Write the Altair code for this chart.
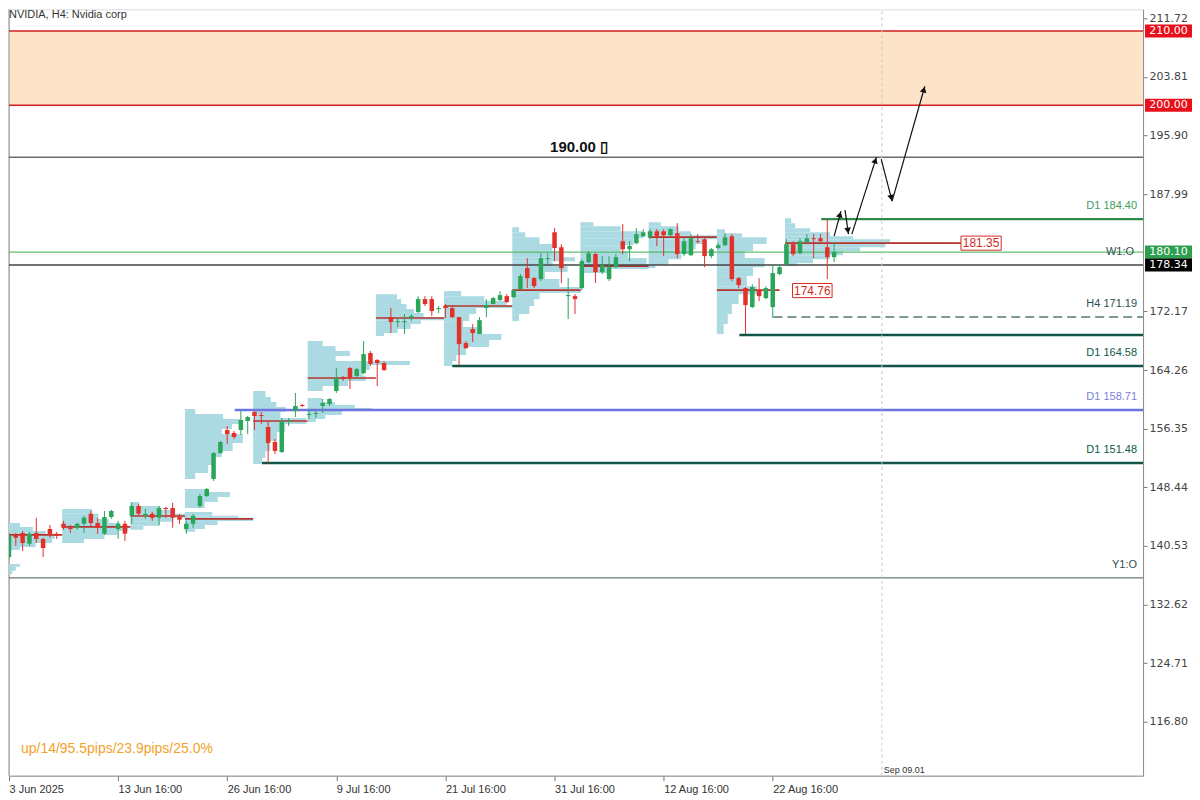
import math
import altair as alt
import pandas as pd

# ---------------- layout / scales ----------------
W, H = 1135, 767
X_MIN, X_MAX = 0.0, 166.3
Y_MIN, Y_MAX = 109.52, 212.93

# ---------------- data ----------------
opens = [139.04, 142.01, 142.28, 140.80, 142.28, 141.47, 142.82, 142.15, 143.50, 142.96,
         142.96, 143.50, 144.85, 143.63, 142.15, 144.44, 142.82, 143.50, 144.58, 145.92,
         144.58, 144.85, 144.31, 145.65, 145.65, 144.44, 142.82, 143.50, 145.92, 147.27,
         149.56, 153.07, 156.17, 155.76, 156.17, 157.38, 158.60, 158.19, 156.57, 154.55,
         153.20, 157.25, 158.73, 159.54, 158.19, 158.33, 159.41, 159.68, 161.43, 163.32,
         164.53, 163.45, 163.85, 166.55, 165.61, 165.20, 171.40, 170.73, 170.73, 171.27,
         172.08, 173.83, 173.83, 172.48, 172.89, 172.62, 171.40, 167.90, 169.79, 169.11,
         172.62, 173.16, 173.70, 174.23, 174.10, 175.18, 178.01, 176.66, 176.53, 179.22,
         182.86, 180.84, 174.23, 174.23, 175.32, 178.82, 179.90, 177.47, 176.53, 178.14,
         181.65, 180.57, 181.38, 182.32, 182.19, 183.00, 183.00, 182.46, 182.73, 179.90,
         179.76, 181.65, 181.92, 179.63, 180.71, 181.11, 182.32, 176.66, 175.32, 172.75,
         175.04, 173.97, 172.75, 177.20, 178.55, 181.24, 180.03, 181.52, 182.05, 182.05,
         180.84, 179.49]
highs = [142.28, 142.28, 142.55, 142.42, 144.31, 141.61, 143.36, 142.42, 143.90, 143.36,
         143.63, 144.58, 145.25, 144.31, 145.25, 145.39, 143.90, 143.90, 146.33, 146.19,
         145.52, 145.12, 145.92, 145.79, 146.33, 144.85, 143.90, 144.85, 147.54, 148.35,
         153.20, 154.69, 156.71, 156.03, 158.73, 158.06, 158.70, 158.60, 157.38, 154.96,
         157.79, 157.79, 161.16, 159.68, 159.00, 158.73, 160.35, 160.48, 164.53, 163.45,
         164.66, 164.53, 168.17, 166.82, 165.74, 165.47, 172.62, 171.27, 171.81, 171.81,
         174.23, 174.23, 174.23, 172.89, 173.16, 172.89, 171.45, 168.17, 170.46, 171.40,
         173.83, 174.10, 174.91, 174.50, 175.18, 177.20, 179.36, 176.80, 180.03, 180.03,
         183.40, 181.24, 176.66, 174.50, 179.22, 180.30, 180.03, 179.63, 179.63, 179.90,
         183.94, 181.65, 183.40, 183.27, 183.27, 183.27, 183.27, 183.40, 184.08, 182.05,
         182.59, 182.59, 182.05, 180.71, 181.38, 182.73, 182.59, 176.80, 175.45, 175.85,
         176.66, 175.58, 178.55, 178.55, 181.92, 181.65, 182.05, 182.59, 182.59, 182.59,
         184.62, 181.52]
lows = [138.78, 140.53, 139.85, 140.53, 140.93, 139.04, 141.61, 141.47, 142.69, 142.28,
        142.69, 142.28, 142.96, 142.15, 142.01, 144.17, 141.47, 141.20, 143.50, 144.58,
        144.17, 143.90, 143.36, 144.31, 142.96, 143.50, 142.15, 142.96, 145.65, 147.13,
        149.29, 152.93, 154.28, 154.96, 155.49, 155.63, 156.17, 156.98, 151.72, 152.93,
        153.07, 156.71, 157.92, 159.27, 157.65, 157.79, 158.46, 159.41, 161.16, 162.78,
        161.70, 163.18, 163.72, 164.80, 162.10, 164.12, 169.25, 170.06, 169.11, 170.86,
        171.94, 172.89, 171.54, 171.94, 171.27, 171.27, 164.93, 167.09, 168.03, 169.11,
        171.40, 173.16, 173.56, 173.29, 173.97, 175.04, 175.32, 175.32, 176.26, 178.55,
        178.95, 175.99, 171.13, 171.81, 175.04, 178.68, 175.99, 177.20, 176.26, 178.01,
        179.90, 178.95, 181.24, 182.19, 181.92, 180.98, 179.63, 182.32, 179.36, 179.63,
        179.63, 181.38, 178.14, 179.36, 180.57, 180.98, 176.26, 175.32, 169.11, 172.62,
        173.56, 173.83, 171.27, 177.07, 178.28, 179.63, 179.90, 181.38, 179.36, 181.52,
        176.53, 178.82]
closes = [142.01, 141.61, 140.93, 142.15, 141.47, 140.26, 142.01, 141.88, 142.96, 142.82,
          143.50, 144.31, 143.63, 142.96, 144.44, 145.25, 143.50, 142.15, 145.92, 144.85,
          144.85, 144.31, 145.65, 145.52, 144.31, 144.04, 143.50, 144.58, 147.27, 148.21,
          153.07, 154.55, 155.63, 155.22, 157.52, 157.92, 158.06, 158.06, 154.42, 153.34,
          157.38, 157.38, 159.41, 159.41, 158.33, 158.46, 159.81, 160.35, 163.18, 163.05,
          163.18, 164.39, 166.41, 165.07, 165.20, 164.26, 170.73, 170.86, 170.86, 171.54,
          173.83, 173.16, 172.21, 172.62, 172.62, 171.40, 167.76, 167.22, 169.25, 170.99,
          173.02, 173.97, 174.37, 173.43, 175.04, 176.93, 176.66, 175.58, 179.36, 179.36,
          180.71, 178.01, 174.37, 173.83, 178.95, 180.03, 177.47, 178.41, 178.14, 179.49,
          180.57, 180.98, 182.59, 182.86, 183.00, 182.32, 182.46, 183.27, 179.90, 181.65,
          182.05, 181.52, 179.63, 180.57, 181.11, 182.19, 176.53, 175.72, 173.02, 175.45,
          174.23, 175.32, 177.34, 178.14, 181.24, 179.90, 181.65, 182.05, 181.92, 181.65,
          179.49, 180.17]

# x-axis (bar index -> date label)
date_ticks = [0, 16, 32, 48, 64, 80, 96, 112]
date_labels = ["3 Jun 2025", "13 Jun 16:00", "26 Jun 16:00", "9 Jul 16:00",
               "21 Jul 16:00", "31 Jul 16:00", "12 Aug 16:00", "22 Aug 16:00"]
price_ticks = [211.72, 203.81, 195.90, 187.99, 172.17, 164.26, 156.35, 148.44,
               140.53, 132.62, 124.71, 116.80]

# weekly volume profiles: start bar, level tops, level bottoms, lengths (bars)
prof_start = [-6.0, -0.2, 7.8, 17.8, 25.8, 35.8, 43.8, 53.8, 63.8, 73.8, 83.8, 93.8, 103.8, 113.8]
prof_top = [
    [138.10, 137.70, 137.16],
    [143.63, 143.09, 142.55, 142.01, 141.47, 140.93, 140.39],
    [145.52, 144.85, 144.17, 143.63, 143.09, 142.55, 142.01, 141.47],
    [146.46, 145.92, 145.38, 144.85, 144.31, 143.77, 143.23],
    [159.00, 158.33, 157.65, 156.98, 156.30, 155.63, 154.42, 153.34, 152.53, 151.45, 150.37,
     148.21, 147.81, 147.13, 146.46, 145.11, 144.58, 144.31, 143.90, 143.36, 142.82],
    [161.43, 160.62, 159.94, 159.27, 158.60, 157.79, 156.98, 155.90, 154.69, 153.34, 152.39],
    [168.17, 167.49, 166.82, 166.14, 165.47, 164.93, 164.26, 163.45, 162.78, 162.10,
     160.48, 159.94, 159.54, 159.13, 158.73, 158.19, 157.65],
    [174.50, 173.83, 173.16, 172.48, 171.94, 171.40, 170.99, 170.46, 169.79, 169.25],
    [174.91, 174.23, 173.56, 173.02, 172.62, 171.81, 170.86, 170.05, 169.11, 168.30, 167.36, 166.28, 165.47],
    [183.54, 182.86, 182.19, 181.25, 180.30, 179.49, 178.95, 178.28, 177.47, 176.53, 175.45, 174.64, 173.83, 172.89, 171.81],
    [184.21, 183.67, 183.00, 182.05, 181.11, 180.30, 179.36, 178.55, 177.88],
    [184.21, 183.67, 183.00, 182.46, 181.92, 181.25, 180.57, 179.90, 179.22, 178.42],
    [183.27, 182.73, 182.19, 181.25, 180.30, 179.36, 178.14, 176.93, 175.58, 174.50, 173.16, 171.81, 170.46],
    [184.75, 184.08, 183.40, 182.86, 182.32, 181.92, 181.52, 181.25, 180.84, 180.30, 179.76, 179.22, 178.68],
]
prof_bot = [
    [137.70, 137.16, 136.75],
    [143.09, 142.55, 142.01, 141.47, 140.93, 140.39, 139.99],
    [144.85, 144.17, 143.63, 143.09, 142.55, 142.01, 141.47, 140.93],
    [145.92, 145.38, 144.85, 144.31, 143.77, 143.23, 142.69],
    [158.33, 157.65, 156.98, 156.30, 155.63, 154.42, 153.34, 152.53, 151.45, 150.37, 149.56,
     147.81, 147.13, 146.46, 145.65, 144.58, 144.31, 143.90, 143.36, 142.82, 142.42],
    [160.62, 159.94, 159.27, 158.60, 157.79, 156.98, 155.90, 154.69, 153.34, 152.39, 151.58],
    [167.49, 166.82, 166.14, 165.47, 164.93, 164.26, 163.45, 162.78, 162.10, 161.43,
     159.94, 159.54, 159.13, 158.73, 158.19, 157.65, 157.25],
    [173.83, 173.16, 172.48, 171.94, 171.40, 170.99, 170.46, 169.79, 169.25, 168.84],
    [174.23, 173.56, 173.02, 172.62, 171.81, 170.86, 170.05, 169.11, 168.30, 167.36, 166.28, 165.47, 164.80],
    [182.86, 182.19, 181.25, 180.30, 179.49, 178.95, 178.28, 177.47, 176.53, 175.45, 174.64, 173.83, 172.89, 171.81, 170.86],
    [183.67, 183.00, 182.05, 181.11, 180.30, 179.36, 178.55, 177.88, 177.34],
    [183.67, 183.00, 182.46, 181.92, 181.25, 180.57, 179.90, 179.22, 178.42, 178.01],
    [182.73, 182.19, 181.25, 180.30, 179.36, 178.14, 176.93, 175.58, 174.50, 173.16, 171.81, 170.46, 169.11],
    [184.08, 183.40, 182.86, 182.32, 181.92, 181.52, 181.25, 180.84, 180.30, 179.76, 179.22, 178.68, 178.28],
]
prof_len = [
    [7.6, 7.0, 6.5],
    [1.8, 3.7, 5.6, 6.9, 6.5, 4.1, 1.8],
    [4.4, 5.3, 6.8, 8.5, 9.7, 8.1, 6.2, 3.2],
    [1.3, 4.4, 6.6, 8.4, 6.3, 4.3, 1.9],
    [1.5, 5.6, 8.1, 6.9, 5.4, 8.5, 7.0, 5.4, 4.0, 3.4, 1.5,
     2.9, 6.6, 4.8, 2.9, 4.0, 7.8, 10.0, 4.8, 2.9, 1.5],
    [1.8, 2.6, 3.4, 4.8, 4.0, 7.8, 4.7, 3.5, 2.5, 1.8, 1.3],
    [2.2, 4.1, 6.2, 4.1, 15.0, 9.1, 8.1, 8.5, 5.9, 2.2,
     2.1, 4.0, 6.9, 9.4, 5.0, 2.6, 1.2],
    [3.1, 3.7, 4.5, 5.6, 7.0, 10.0, 6.6, 5.1, 3.2, 1.2],
    [2.5, 5.9, 9.1, 10.0, 4.7, 3.7, 2.8, 5.6, 8.4, 6.6, 3.2, 1.8, 1.2],
    [1.0, 1.9, 4.0, 5.9, 6.9, 9.2, 5.9, 8.1, 4.8, 6.9, 10.1, 4.0, 3.2, 2.5, 1.0],
    [1.9, 5.9, 9.2, 7.8, 5.9, 7.0, 9.7, 10.0, 4.4],
    [1.8, 4.4, 6.2, 10.0, 8.4, 6.9, 6.3, 4.8, 2.9, 1.0],
    [1.2, 3.7, 7.3, 5.3, 4.1, 7.0, 5.3, 4.4, 5.9, 3.2, 2.2, 1.6, 1.0],
    [0.9, 1.5, 3.7, 6.6, 10.0, 15.4, 24.2, 14.7, 11.0, 8.5, 6.6, 4.1, 1.8],
]

# weekly POC lines
poc_start = [-0.2, 7.8, 17.8, 25.8, 35.8, 43.8, 53.8, 63.8, 73.8, 83.8, 93.8, 103.8, 113.8]
poc_end = [7.8, 17.8, 25.8, 35.8, 43.8, 53.8, 63.8, 73.8, 83.8, 93.8, 103.8, 113.0, 139.6]
poc_price = [142.01, 143.09, 144.57, 144.17, 157.38, 163.18, 171.27, 172.89, 175.04, 178.28,
             182.19, 175.04, 181.38]

# horizontal levels
zone_low, zone_high = 200.0, 210.0
level_price = [210.0, 200.0, 192.98, 184.62, 180.17, 178.42, 171.40, 168.98, 164.80, 158.87, 151.72, 136.21]
level_start = [X_MIN, X_MIN, X_MIN, 119.1, X_MIN, X_MIN, 112.1, 107.1, 65.0, 33.1, 37.1, X_MIN]
level_text = ["", "", "", "D1 184.40", "W1:O", "", "H4 171.19", "", "D1 164.58", "D1 158.71", "D1 151.48", "Y1:O"]

# price tags on the axis
tag_price = [210.0, 200.0, 180.17, 178.42]
tag_text = ["210.00", "200.00", "180.10", "178.34"]

# boxed labels inside the chart
box_price = [181.38, 174.98]
box_x0 = [139.6, 114.9]
box_x1 = [145.5, 120.7]
box_text = ["181.35", "174.76"]

# forecast arrows (bar index, price)
arrow_x0 = [121.0, 122.6, 123.6, 127.9, 129.5]
arrow_y0 = [182.32, 185.83, 182.59, 192.71, 187.04]
arrow_x1 = [122.0, 123.1, 127.2, 129.5, 134.3]
arrow_y1 = [185.70, 182.59, 192.98, 187.04, 202.55]

sep_bar = 128.0

# ---------------- styles ----------------
FONT = "Liberation Sans"
GREEN, RED = "#2aa55a", "#e2302b"
PROFILE = "#abdae3"
POC = "#b8332e"
FRAME = "#8c8c8c"
level_style = [
    ("#d11f1f", 1.5, None), ("#d11f1f", 1.5, None), ("#222222", 1.0, None),
    ("#2e8b4a", 2.2, None), ("#3cb04a", 1.0, None), ("#444444", 1.5, None),
    ("#7d9c8f", 2.0, [9, 5]), ("#0f5444", 2.5, None), ("#0f5444", 2.5, None),
    ("#6f73e0", 2.5, None), ("#0f5444", 2.5, None), ("#3b5b5b", 1.0, None),
]
label_color = {"D1 184.40": "#3d9e5f", "W1:O": "#2f4f4f", "H4 171.19": "#2f4f4f",
               "D1 164.58": "#0e5a47", "D1 158.71": "#7b80d8", "D1 151.48": "#0e5a47",
               "Y1:O": "#2f4f4f"}
tag_colors = ["#e8101a", "#e8101a", "#2e9e4f", "#000000"]

# ---------------- scales & axes ----------------
xs = alt.Scale(domain=[X_MIN, X_MAX], nice=False, zero=False)
ys = alt.Scale(domain=[Y_MIN, Y_MAX], nice=False, zero=False)

expr = "''"
for v, l in reversed(list(zip(date_ticks, date_labels))):
    expr = f"datum.value == {v} ? '{l}' : {expr}"

xaxis = alt.Axis(values=date_ticks, labelExpr=expr, labelAlign="left", title=None, grid=False,
                 labelFontSize=11, labelFont="Liberation Sans Narrow, Liberation Sans",
                 labelColor="#333333", tickColor="#777777", domainColor=FRAME,
                 tickSize=5, labelPadding=3, labelFlush=False, labelOverlap=False)
yaxis = alt.Axis(orient="right", values=price_ticks, format=".2f", title=None, grid=False,
                 labelFontSize=11, labelFont="DejaVu Sans", labelColor="#444444",
                 tickColor="#777777", domainColor=FRAME, tickSize=4, labelPadding=2,
                 labelOverlap=False, labelFlush=False)


def X(f):
    return alt.X(f, type="quantitative", scale=xs, axis=xaxis)


def Y(f):
    return alt.Y(f, type="quantitative", scale=ys, axis=yaxis)


layers = []

# zone 200-210
zone_df = pd.DataFrame({"lo": [zone_low], "hi": [zone_high], "x0": [X_MIN], "x1": [X_MAX]})
layers.append(alt.Chart(zone_df).mark_rect(color="#fde4c9").encode(
    x=X("x0"), x2="x1", y=Y("hi"), y2="lo"))

# left frame line
frame_df = pd.DataFrame({"x": [X_MIN], "lo": [Y_MIN], "hi": [Y_MAX]})
layers.append(alt.Chart(frame_df).mark_rule(color=FRAME, strokeWidth=1).encode(
    x=X("x"), y=Y("lo"), y2="hi"))

# volume profiles
rows = []
for s, tops, bots, lens in zip(prof_start, prof_top, prof_bot, prof_len):
    for t, b, l in zip(tops, bots, lens):
        rows.append({"x0": s, "x1": s + l, "top": t, "bot": b})
prof_df = pd.DataFrame(rows)
layers.append(alt.Chart(prof_df).mark_rect(color=PROFILE, clip=True).encode(
    x=X("x0"), x2="x1", y=Y("top"), y2="bot"))

# POC lines
poc_df = pd.DataFrame({"x0": poc_start, "x1": poc_end, "p": poc_price})
layers.append(alt.Chart(poc_df).mark_rule(color=POC, strokeWidth=1.6, clip=True).encode(
    x=X("x0"), x2="x1", y=Y("p")))

# horizontal levels
for p, s, (col, sw, dash) in zip(level_price, level_start, level_style):
    d = pd.DataFrame({"p": [p], "x0": [s], "x1": [X_MAX]})
    kw = dict(color=col, strokeWidth=sw, clip=True)
    if dash:
        kw["strokeDash"] = dash
    layers.append(alt.Chart(d).mark_rule(**kw).encode(x=X("x0"), x2="x1", y=Y("p")))

# Sep 09.01 vertical dashed line
sep_df = pd.DataFrame({"x": [sep_bar], "lo": [Y_MIN], "hi": [Y_MAX]})
layers.append(alt.Chart(sep_df).mark_rule(color="#c8c8c8", strokeDash=[3, 3], strokeWidth=1).encode(
    x=X("x"), y=Y("lo"), y2="hi"))
layers.append(alt.Chart(sep_df).mark_text(text="Sep 09.01", align="left", baseline="middle", dx=2,
                                           fontSize=9, font="Liberation Sans Narrow, Liberation Sans",
                                           color="#333333").encode(x=X("x"), y=alt.value(H - 6)))

# candles
cdf = pd.DataFrame({"i": list(range(len(opens))), "o": opens, "h": highs, "l": lows, "c": closes})
cdf["col"] = [GREEN if c >= o else RED for o, c in zip(opens, closes)]
layers.append(alt.Chart(cdf).mark_rule(strokeWidth=1, clip=True).encode(
    x=X("i"), y=Y("l"), y2="h", color=alt.Color("col:N", scale=None)))
layers.append(alt.Chart(cdf).mark_rule(strokeWidth=4.5, clip=True).encode(
    x=X("i"), y=Y("o"), y2="c", color=alt.Color("col:N", scale=None)))

# level labels
lab_df = pd.DataFrame({"p": level_price, "t": level_text})
lab_df = lab_df[lab_df["t"] != ""].copy()
lab_df["col"] = [label_color[t] for t in lab_df["t"]]
lab_df["dy"] = [0 if t == "W1:O" else -13 for t in lab_df["t"]]
for _, r in lab_df.iterrows():
    d = pd.DataFrame({"p": [r["p"]], "t": [r["t"]]})
    layers.append(alt.Chart(d).mark_text(align="right", baseline="middle", fontSize=11, font=FONT,
                                         color=r["col"], dy=int(r["dy"])).encode(
        x=alt.value(W - 6 if r["t"] != "W1:O" else W - 9), y=Y("p"), text="t:N"))

# 190.00 label
t190 = pd.DataFrame({"x": [83.6], "p": [194.33], "t": ["190.00 \u25AF"]})
layers.append(alt.Chart(t190).mark_text(fontSize=15, fontWeight="bold", font=FONT, color="#111111",
                                        baseline="middle", align="center").encode(
    x=X("x"), y=Y("p"), text="t:N"))

# boxed labels in chart
bdf = pd.DataFrame({"p": box_price, "x0": box_x0, "x1": box_x1, "t": box_text})
bdf["xm"] = (bdf["x0"] + bdf["x1"]) / 2
layers.append(alt.Chart(bdf).transform_calculate(top="datum.p + 0.95", bot="datum.p - 0.95").mark_rect(
    fill="white", stroke="#d42a24", strokeWidth=1).encode(x=X("x0"), x2="x1", y=Y("top:Q"), y2="bot:Q"))
layers.append(alt.Chart(bdf).mark_text(fontSize=12, font=FONT, color="#d42a24", baseline="middle").encode(
    x=X("xm"), y=Y("p"), text="t:N"))

# arrows
kx = W / (X_MAX - X_MIN)
ky = H / (Y_MAX - Y_MIN)
adf = pd.DataFrame({"x0": arrow_x0, "y0": arrow_y0, "x1": arrow_x1, "y1": arrow_y1})
heads = []
for x0, y0, x1, y1 in zip(arrow_x0, arrow_y0, arrow_x1, arrow_y1):
    dxp, dyp = (x1 - x0) * kx, (y1 - y0) * ky
    n = math.hypot(dxp, dyp)
    ang = math.degrees(math.atan2(dxp, dyp)) % 360
    back = 3.5
    heads.append({"x": x1 - dxp / n * back / kx, "y": y1 - dyp / n * back / ky, "a": ang})
hdf = pd.DataFrame(heads)
layers.append(alt.Chart(adf).mark_rule(color="#111111", strokeWidth=1.2).encode(
    x=X("x0"), y=Y("y0"), x2="x1", y2="y1"))
layers.append(alt.Chart(hdf).mark_point(shape="triangle-up", filled=True, color="#111111", size=45,
                                        opacity=1).encode(
    x=X("x"), y=Y("y"), angle=alt.Angle("a:Q", scale=None)))

# axis price tags
tdf = pd.DataFrame({"p": tag_price, "t": tag_text, "col": tag_colors})
layers.append(alt.Chart(tdf).transform_calculate(top="datum.p + 0.88", bot="datum.p - 0.88").mark_rect().encode(
    x=alt.value(W + 2), x2=alt.value(W + 49), y=Y("top:Q"), y2="bot:Q",
    color=alt.Color("col:N", scale=None)))
layers.append(alt.Chart(tdf).mark_text(fontSize=11, font="DejaVu Sans", color="white", baseline="middle",
                                       align="center").encode(
    x=alt.value(W + 25.5), y=Y("p"), text="t:N"))

# title and stats text
title_df = pd.DataFrame({"t": ["NVIDIA, H4:  Nvidia corp"]})
layers.append(alt.Chart(title_df).mark_text(align="left", baseline="top", fontSize=11, font=FONT,
                                            color="#333333").encode(
    x=alt.value(0), y=alt.value(0), text="t:N"))
stat_df = pd.DataFrame({"t": ["up/14/95.5pips/23.9pips/25.0%"]})
layers.append(alt.Chart(stat_df).mark_text(align="left", baseline="middle", fontSize=14, font=FONT,
                                           color="#f2a22c").encode(
    x=alt.value(12), y=alt.value(740), text="t:N"))

chart = alt.layer(*layers).properties(width=W, height=H, padding=0).configure_view(
    strokeWidth=0).configure(background="white")

chart.save("out.html", embed_options={"renderer": "svg", "actions": False})
